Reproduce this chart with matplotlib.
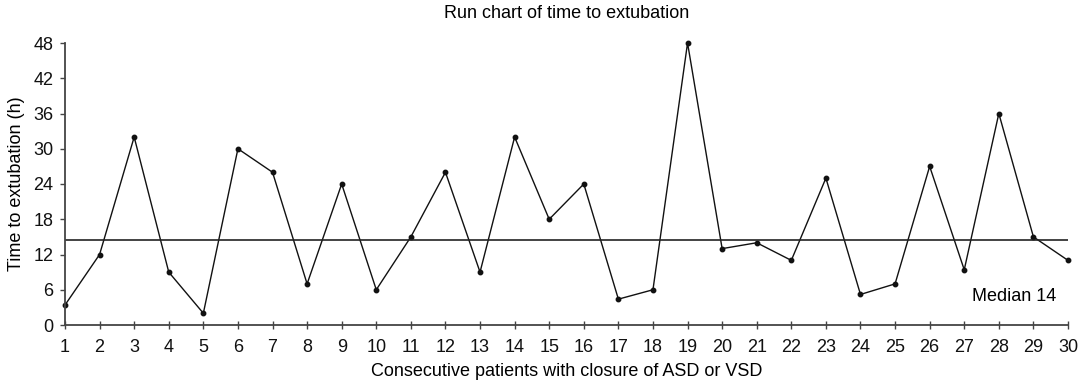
import matplotlib.pyplot as plt

plt.rcParams['font.family'] = ['Liberation Sans', 'DejaVu Sans']

# consecutive patients and hours to extubation
patients = list(range(1, 31))
hours = [3.4, 12, 32, 9, 2, 30, 26, 7, 24, 6,
         15, 26, 9, 32, 18, 24, 4.4, 6, 48, 13,
         14, 11, 25, 5.2, 7, 27, 9.4, 36, 15, 11]
median_line = 14.4
yticks = [0, 6, 12, 18, 24, 30, 36, 42, 48]

fig = plt.figure(figsize=(10.85, 3.86), dpi=100)
ax = fig.add_axes([65 / 1085, 61 / 386, 1003 / 1085, 282 / 386])

ax.plot(patients, hours, '-', color='#111111', lw=1.0,
        marker='o', ms=3.2, clip_on=False)
ax.axhline(median_line, color='#222222', lw=1.2)
ax.text(29.65, 4.8, 'Median 14', ha='right', va='center', fontsize=13)

ax.set_xlim(1, 30)
ax.set_ylim(0, 48)
ax.set_xticks(patients)
ax.set_yticks(yticks)

for s in ['top', 'right']:
    ax.spines[s].set_visible(False)
for s in ['left', 'bottom']:
    ax.spines[s].set_color('#444444')
    ax.spines[s].set_linewidth(1.3)
ax.tick_params(axis='x', direction='inout', length=6, width=1, colors='#444444',
               labelcolor='#111111', labelsize=13, pad=7)
ax.tick_params(axis='y', direction='out', length=3.5, width=1, colors='#444444',
               labelcolor='#111111', labelsize=13, pad=5)

ax.set_xlabel('Consecutive patients with closure of ASD or VSD', fontsize=13, labelpad=5)
ax.set_ylabel('Time to extubation (h)', fontsize=13, labelpad=6)
ax.set_title('Run chart of time to extubation', fontsize=13, pad=18)

fig.savefig('out.png', dpi=100)
